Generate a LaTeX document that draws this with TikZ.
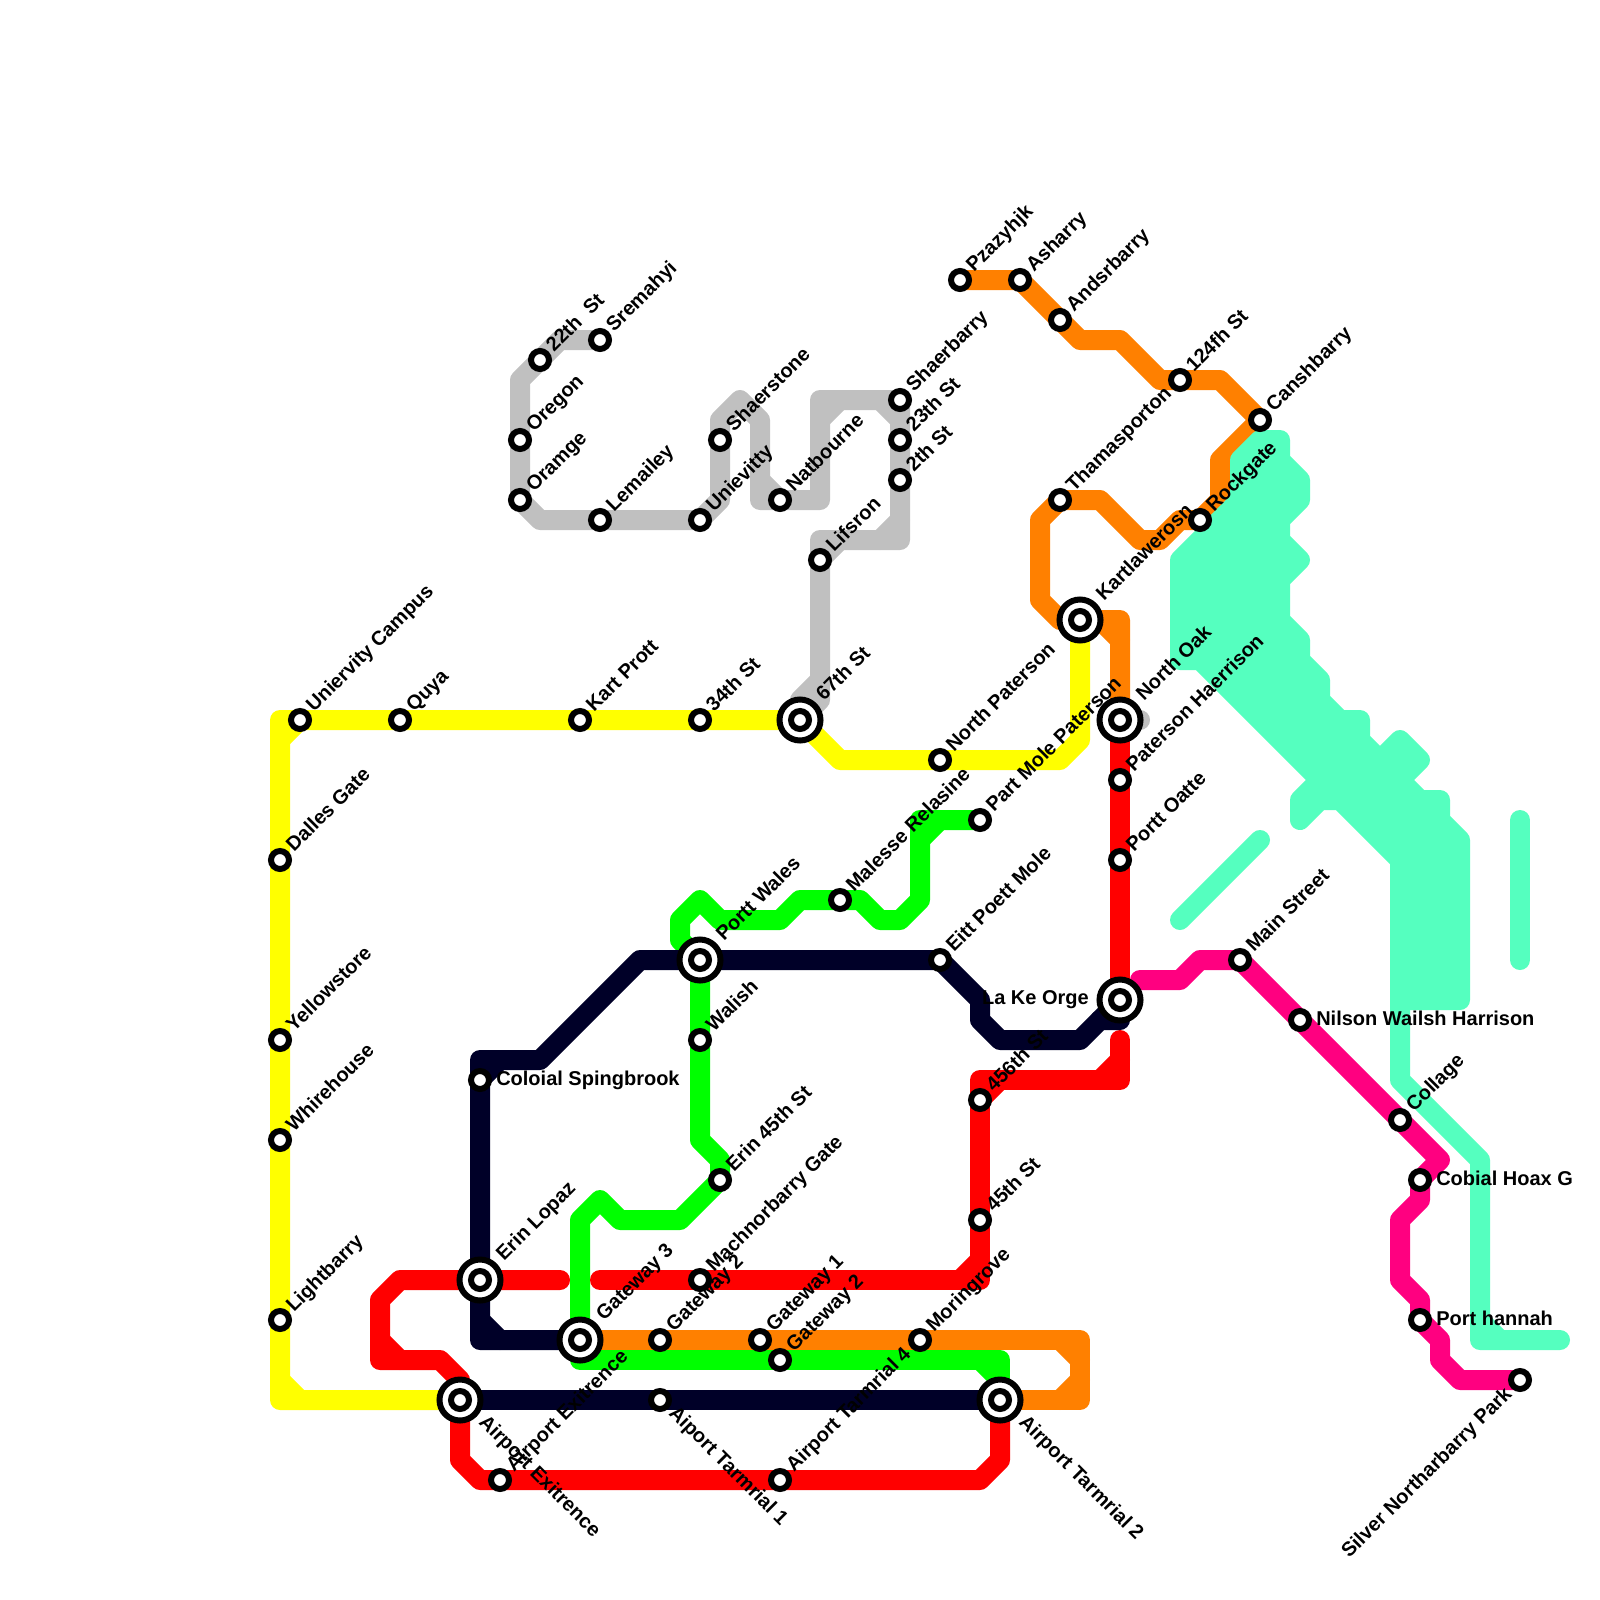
\documentclass[tikz,border=0pt]{standalone}
\usepackage{fontspec}
\setmainfont{Liberation Sans}
\definecolor{cyanl}{HTML}{55FFBF}
\definecolor{navyl}{HTML}{000028}
\definecolor{orangel}{HTML}{FF8000}
\definecolor{magl}{HTML}{FF0080}
\definecolor{greyl}{HTML}{C0C0C0}
\definecolor{yellowl}{HTML}{FFFF00}
\definecolor{greenl}{HTML}{00FF00}
\definecolor{redl}{HTML}{FF0000}
\tikzset{
 metro/.style={line width=15bp,line cap=round,line join=round},
 yl/.style={metro,draw=yellowl},
 gl/.style={metro,draw=greyl},
 ol/.style={metro,draw=orangel},
 cl/.style={metro,draw=cyanl},
 grl/.style={metro,draw=greenl},
 rl/.style={metro,draw=redl},
 nl/.style={metro,draw=navyl},
 ml/.style={metro,draw=magl},
 smallst/.style={circle,draw=black,fill=white,line width=4.5bp,inner sep=0pt,minimum size=13.5bp},
 bigst/.style={circle,draw=black,fill=white,line width=4.5bp,inner sep=0pt,minimum size=30.75bp},
 lab/.style={inner sep=0pt,font=\bfseries\fontsize{15bp}{15bp}\selectfont,text=black},
 labne/.style={lab,rotate=45,anchor=base west},
 labse/.style={lab,rotate=-45,anchor=base west},
 labsw/.style={lab,rotate=45,anchor=base east},
 labr/.style={lab,anchor=base west},
 labl/.style={lab,anchor=base east},
}
\newcommand{\su}[2]{\node[smallst] (s#1) at (#1) {};\path (#1) ++(.7,-.35) node[labne] (l#1) {#2};}
\newcommand{\sbu}[2]{\node[bigst] (b#1) at (#1) {};\node[smallst] (s#1) at (#1) {};\path (#1) ++(1.2,-.9) node[labne] (l#1) {#2};}
\newcommand{\sd}[2]{\node[smallst] (s#1) at (#1) {};\path (#1) ++(.4,.7) node[labse] (l#1) {#2};}
\newcommand{\sbd}[2]{\node[bigst] (b#1) at (#1) {};\node[smallst] (s#1) at (#1) {};\path (#1) ++(.9,1.15) node[labse] (l#1) {#2};}
\newcommand{\sr}[2]{\node[smallst] (s#1) at (#1) {};\path (#1) ++(.8,.25) node[labr] (l#1) {#2};}
\begin{document}
\begin{tikzpicture}[x=15bp,y=-15bp]
\useasboundingbox (0,0) rectangle (80,80);
\fill[white] (0,0) rectangle (80,80);
% station positions
\foreach \n/\x/\y in {unicamp/15/36,quya/20/36,kart/29/36,th34/35/36,st67/40/36,npat/47/38,kartl/54/31,
 dalles/14/43,yellow/14/52,whire/14/57,light/14/66,airport/23/70,sremahyi/30/17,th22/27/18,oregon/26/22,oramge/26/25,
 lemailey/30/26,uniev/35/26,shaerstone/36/22,natb/39/25,shaerb/45/20,th23/45/22,th2/45/24,lifs/41/28,noak/56/36,
 pzaz/48/14,ash/51/14,ands/53/16,th124/59/19,cansh/63/21,rock/60/26,thama/53/25,
 lakeorge/56/50,mainst/62/48,nilson/65/51,collage/70/56,cobial/71/59,hannah/71/66,silver/76/69,
 erinl/24/64,mach/35/64,th456/49/55,th45/49/61,extir/25/74,tarm4/39/74,tarm2/50/70,tarm1/33/70,
 pathaer/56/39,oatte/56/43,gate3/29/67,gate2a/33/67,gate1/38/67,gate2b/39/68,moring/46/67,
 erin45/36/59,walish/35/52,wales/35/48,malesse/42/45,partm/49/41,eitt/47/48,coloial/24/54}
 {\coordinate (\n) at (\x,\y);}
% yellow
\draw[yl] (airport) -- (14,70) -- (14,36) -- (unicamp) -- (quya) -- (kart) -- (th34) -- (st67) -- (42,38) -- (npat) -- (53,38) -- (54,37) -- (kartl);
\draw[yl] (14,69) -- (15,70);
\draw[yl] (14,37) -- (15,36);
% grey
\draw[gl] (sremahyi) -- (28,17) -- (th22) -- (26,19) -- (oregon) -- (oramge) -- (27,26) -- (lemailey) -- (uniev) -- (36,25) -- (shaerstone) -- (36,21) -- (37,20) -- (38,21) -- (38,25) -- (natb) -- (41,25) -- (41,20) -- (shaerb) -- (th23) -- (th2) -- (45,27) -- (41,27) -- (lifs) -- (41,35) -- (st67);
\draw[gl] (38,24) -- (natb);
\draw[gl] (41,21) -- (42,20);
\draw[gl] (44,20) -- (45,21);
\draw[gl] (45,26) -- (44,27);
\draw[gl] (lifs) -- (42,27);
\draw[gl] (41,34) -- (40,35);
\draw[gl] (noak) -- (57,36);
% orange
\draw[ol] (pzaz) -- (ash) -- (ands) -- (54,17) -- (56,17) -- (58,19) -- (th124) -- (61,19) -- (cansh) -- (61,23) -- (61,25) -- (rock) -- (59,26) -- (58,27) -- (57,27) -- (55,25) -- (thama) -- (52,26) -- (52,30) -- (53,31) -- (kartl) -- (56,31) -- (noak);
\draw[ol] (55,31) -- (56,32);
\draw[ol] (gate3) -- (54,67) -- (54,70) -- (tarm2);
\draw[ol] (53,67) -- (54,68);
\draw[ol] (54,69) -- (53,70);
% cyan
\path[fill=cyanl,cl] (63,22) -- (64,22) -- (64,23) -- (65,24) -- (65,25) -- (64,26) -- (64,27) -- (65,28) -- (64,29) -- (64,31) -- (65,32) -- (65,33) -- (66,34) -- (66,35) -- (67,36) -- (68,36) -- (68,37) -- (69,38) -- (70,37) -- (71,38) -- (70,39) -- (71,40) -- (72,40) -- (72,41) -- (73,42) -- (73,50) -- (70,50) -- (70,43) -- (67,40) -- (66,40) -- (65,41) -- (65,40) -- (66,39) -- (60,33) -- (59,33) -- (59,28) -- (62,25) -- (62,23) -- cycle;
\draw[cl] (70,50) -- (70,54) -- (74,58) -- (74,67) -- (78,67);
\draw[cl] (74,66) -- (75,67);
\draw[cl] (59,46) -- (63,42);
\draw[cl] (76,41) -- (76,48);
% green
\draw[grl] (gate3) -- (29,61) -- (30,60) -- (31,61) -- (34,61) -- (erin45) -- (36,58) -- (35,57) -- (walish) -- (wales) -- (34,47) -- (34,46) -- (35,45) -- (36,46) -- (39,46) -- (40,45) -- (malesse) -- (43,45) -- (44,46) -- (45,46) -- (46,45) -- (46,41) -- (partm);
\draw[grl] (46,42) -- (47,41);
\draw[grl] (gate3) -- (29,68) -- (gate2b) -- (50,68) -- (tarm2);
\draw[grl] (49,68) -- (50,69);
% red
\draw[rl] (airport) -- (23,69) -- (22,68) -- (19,68) -- (19,65) -- (20,64) -- (erinl) -- (28,64);
\draw[rl] (19,67) -- (20,68);
\draw[rl] (30,64) -- (mach) -- (49,64) -- (th45) -- (th456) -- (49,54) -- (56,54) -- (56,52);
\draw[rl] (48,64) -- (49,63);
\draw[rl] (50,54) -- (th456);
\draw[rl] (55,54) -- (56,53);
\draw[rl] (noak) -- (pathaer) -- (oatte) -- (lakeorge);
\draw[rl] (airport) -- (23,73) -- (24,74) -- (extir) -- (tarm4) -- (49,74) -- (50,73) -- (tarm2);
% navy
\draw[nl] (airport) -- (tarm1) -- (tarm2);
\draw[nl] (gate3) -- (24,67) -- (erinl) -- (coloial) -- (24,53) -- (27,53) -- (32,48) -- (wales) -- (eitt) -- (49,50) -- (49,51) -- (50,52) -- (54,52) -- (55,51) -- (56,51) -- (lakeorge);
\draw[nl] (24,66) -- (25,67);
\draw[nl] (24,54) -- (25,53);
\draw[nl] (55,51) -- (lakeorge);
% magenta
\draw[ml] (57,49) -- (59,49) -- (60,48) -- (mainst) -- (nilson) -- (collage) -- (72,58) -- (cobial) -- (71,60) -- (70,61) -- (70,64) -- (71,65) -- (hannah) -- (72,67) -- (72,68) -- (73,69) -- (silver);
% stations
\su{unicamp}{Uniervity Campus}
\su{quya}{Quya}
\su{kart}{Kart Prott}
\su{th34}{34th St}
\sbu{st67}{67th St}
\su{npat}{North Paterson}
\sbu{kartl}{Kartlawerosn}
\su{dalles}{Dalles Gate}
\su{yellow}{Yellowstore}
\su{whire}{Whirehouse}
\su{light}{Lightbarry}
\sbd{airport}{Airport Exitrence}
\su{sremahyi}{Sremahyi}
\su{th22}{22th\ \ St}
\su{oregon}{Oregon}
\su{oramge}{Oramge}
\su{lemailey}{Lemailey}
\su{uniev}{Unievitty}
\su{shaerstone}{Shaerstone}
\su{natb}{Natbourne}
\su{shaerb}{Shaerbarry}
\su{th23}{23th St}
\su{th2}{2th St}
\su{lifs}{Lifsron}
\sbu{noak}{North Oak}
\su{pzaz}{Pzazyhjk}
\su{ash}{Asharry}
\su{ands}{Andsrbarry}
\su{th124}{124fh St}
\su{cansh}{Canshbarry}
\su{rock}{Rockgate}
\su{thama}{Thamasporton}
\node[bigst] (blakeorge) at (lakeorge) {};\node[smallst] (slakeorge) at (lakeorge) {};
\path (lakeorge) ++(-1.55,.2) node[labl] (llakeorge) {La Ke Orge};
\su{mainst}{Main Street}
\sr{nilson}{Nilson Wailsh Harrison}
\su{collage}{Collage}
\sr{cobial}{Cobial Hoax G}
\sr{hannah}{Port hannah}
\node[smallst] (ssilver) at (silver) {};
\path (silver) ++(-.35,.75) node[labsw] (lsilver) {Silver Northarbarry Park};
\sbu{erinl}{Erin Lopaz}
\su{mach}{Machnorbarry Gate}
\su{th456}{456th St}
\su{th45}{45th St}
\su{extir}{Airport Exitrence}
\su{tarm4}{Airport Tarmrial 4}
\sbd{tarm2}{Airport Tarmrial 2}
\sd{tarm1}{Aiport Tarmrial 1}
\su{pathaer}{Paterson Haerrison}
\su{oatte}{Portt Oatte}
\sbu{gate3}{Gateway 3}
\su{gate2a}{Gateway 2}
\su{gate1}{Gateway 1}
\su{gate2b}{Gateway 2}
\su{moring}{Moringrove}
\su{erin45}{Erin 45th St}
\su{walish}{Walish}
\sbu{wales}{Portt Wales}
\su{malesse}{Malesse Relasine}
\su{partm}{Part Mole Paterson}
\su{eitt}{Eitt Poett Mole}
\sr{coloial}{Coloial Spingbrook}
\end{tikzpicture}
\end{document}
